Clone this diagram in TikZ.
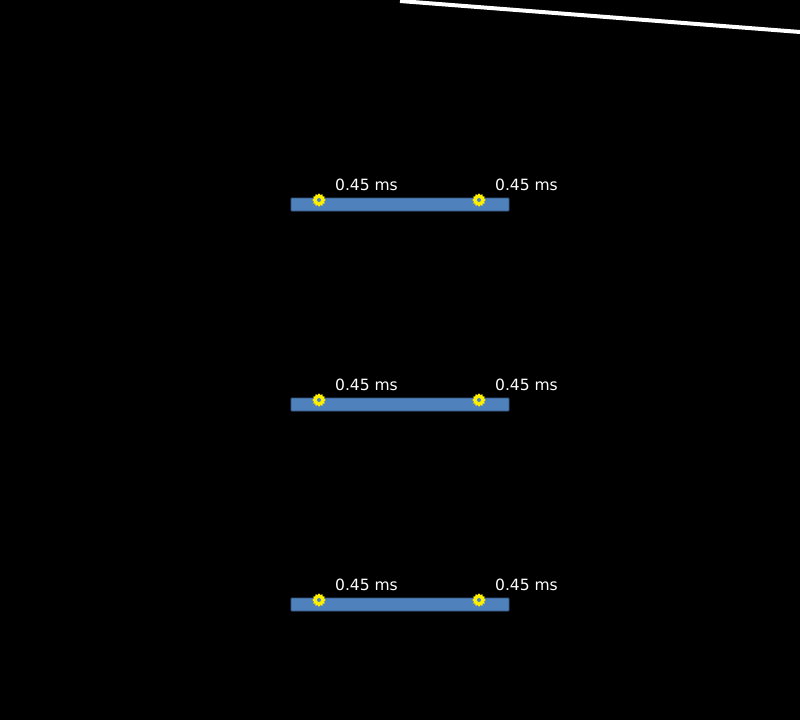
\documentclass[tikz,border=0pt]{standalone}
\usepackage{fontspec}
\setmainfont{DejaVu Sans}
\usetikzlibrary{shapes.geometric}
\definecolor{barblue}{RGB}{79,129,189}
\definecolor{baredge}{RGB}{56,86,126}
\definecolor{mkyellow}{RGB}{255,240,0}
\tikzset{
  bar/.style={fill=barblue, draw=baredge, line width=0.8pt, rounded corners=0.8pt},
  marker/.style={star, star points=12, star point ratio=1.3, minimum size=13.5pt, inner sep=0pt, fill=mkyellow, draw=none},
  mdot/.style={circle, fill=barblue, minimum size=4pt, inner sep=0pt, draw=none},
  lbl/.style={anchor=base west, text=white, font=\fontsize{15.5}{17}\selectfont, inner sep=0pt}
}
\begin{document}
\begin{tikzpicture}[x=1pt,y=-1pt]
\fill[black] (0,0) rectangle (800,720);
\useasboundingbox (0,0) rectangle (800,720);
\begin{scope}
\clip (0,0) rectangle (800,720);
\coordinate (ls) at (400,1);
\coordinate (le) at (804,32.3);
\draw[white, line width=4pt] (ls) -- (le);
\end{scope}
\foreach \y [count=\i] in {198,398,598}{
  \path[bar] (291,\y) rectangle (509,\y+13);
  \node[marker] (ma\i) at (319,\y+2) {};
  \node[mdot] (da\i) at (ma\i) {};
  \node[marker] (mb\i) at (479,\y+2) {};
  \node[mdot] (db\i) at (mb\i) {};
  \node[lbl] (ta\i) at (335,\y-7.2) {0.45 ms};
  \node[lbl] (tb\i) at (495,\y-7.2) {0.45 ms};
}
\end{tikzpicture}
\end{document}
